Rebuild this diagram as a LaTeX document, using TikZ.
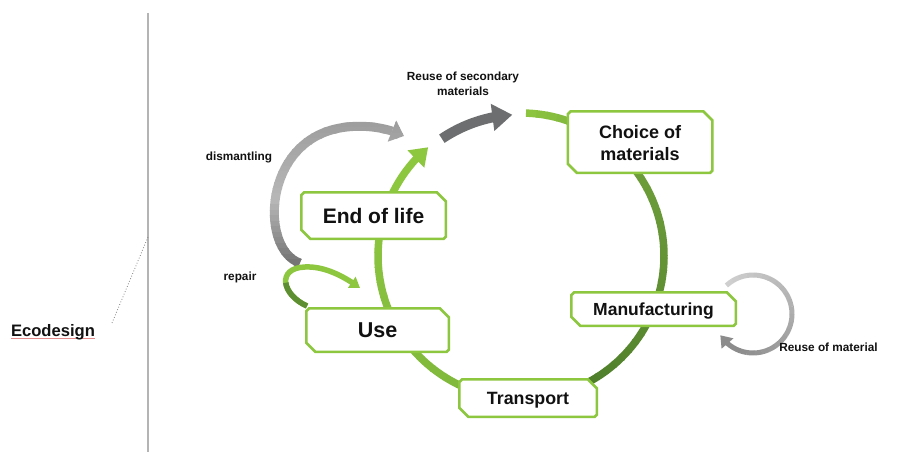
\documentclass[tikz,border=0pt]{standalone}
\usepackage{fontspec}
\setmainfont{Liberation Sans}
\usetikzlibrary{arrows.meta,calc,bending}
\definecolor{lg}{HTML}{8DC63F}
\definecolor{lg2}{HTML}{80B93C}
\definecolor{mg}{HTML}{6E9E3A}
\definecolor{mg2}{HTML}{5E8E32}
\definecolor{dg}{HTML}{4C7B2A}
\definecolor{boxg}{HTML}{8DC63F}
\definecolor{dgray}{HTML}{6D6E70}
\definecolor{gA}{HTML}{6A6A6A}
\definecolor{gB}{HTML}{B6B6B6}
\definecolor{gC}{HTML}{979797}
\definecolor{gL}{HTML}{D0D0D0}
\definecolor{gM}{HTML}{ADADAD}
\definecolor{gD}{HTML}{8C8C8C}
\definecolor{txt}{HTML}{111111}
\definecolor{vline}{HTML}{B4B4B4}
\definecolor{spell}{HTML}{E58A8A}
\newcommand\gradarc[8]{%
  \foreach \k in {1,...,#8}{%
    \pgfmathsetmacro\sa{#3+(#4-#3)*(\k-1)/#8}%
    \pgfmathsetmacro\ea{#3+(#4-#3)*\k/#8+0.4}%
    \pgfmathtruncatemacro\pc{100*(\k-0.5)/#8}%
    \draw[line width=#7, color=#6!\pc!#5] ($(#1)+(\sa:#2)$) arc[start angle=\sa, end angle=\ea, radius=#2];
  }}
\newcommand\chbox[1]{%
  \filldraw[boxline] ($(#1.north west)+(3,0)$) -- ($(#1.north east)+(-9,0)$) -- ($(#1.north east)+(0,9)$)
    -- ($(#1.south east)+(0,-2)$) -- ($(#1.south east)+(-2,0)$) -- ($(#1.south west)+(9,0)$)
    -- ($(#1.south west)+(0,-9)$) -- ($(#1.north west)+(0,3)$) -- cycle;}
\pgfdeclarelayer{bg}
\pgfdeclarelayer{mid}
\pgfsetlayers{bg,mid,main}
\begin{document}
\begin{tikzpicture}[x=1pt,y=-1pt,
  stage/.style={rectangle, draw=none, inner sep=0pt, outer sep=0pt, align=center, text=txt, text depth=0pt},
  boxline/.style={draw=boxg, fill=white, line width=2.5pt, line join=miter},
  lab/.style={inner sep=0pt, outer sep=0pt, align=center, text=txt, font=\bfseries\fontsize{11.8}{15}\selectfont},
  dmline/.style={line width=9pt, -{Triangle[width=22pt,length=13pt]}}]
\useasboundingbox (0,0) rectangle (897,452);

% stage nodes
\node[stage, minimum width=144.5pt, minimum height=61.5pt, text height=36.9pt, text depth=0pt, font=\bfseries\fontsize{18}{22}\selectfont] (choice) at (640,142) {Choice of\\materials};
\node[stage, minimum width=164.5pt, minimum height=33.5pt, text height=12.5pt, font=\bfseries\fontsize{17.5}{20}\selectfont] (manu) at (653.5,309) {Manufacturing};
\node[stage, minimum width=137.5pt, minimum height=37.5pt, text height=12.7pt, font=\bfseries\fontsize{17.8}{20}\selectfont] (trans) at (528,398) {Transport};
\node[stage, minimum width=142.5pt, minimum height=43.5pt, text height=15.4pt, font=\bfseries\fontsize{21.5}{24}\selectfont] (use) at (377.5,330) {Use};
\node[stage, minimum width=144.5pt, minimum height=46.5pt, text height=15pt, font=\bfseries\fontsize{21}{24}\selectfont] (eol) at (373.5,215.5) {End of life};

% labels
\node[lab] (reusesec) at (463,84) {Reuse of secondary\\materials};
\node[lab] (dism) at (239,157) {dismantling};
\node[lab] (repair) at (240,277) {repair};
\node[lab] (reusemat) at (828.5,347) {Reuse of material};
\node[lab, font=\bfseries\fontsize{16.6}{19}\selectfont] (eco) at (53,332) {Ecodesign};

% coordinates
\coordinate (C) at (521,256);
\coordinate (R) at (753,314);
\coordinate (dmS) at (300,263);
\coordinate (dmT) at (340,128);
\coordinate (dmE) at (404,136);
\coordinate (vt) at (148,13);
\coordinate (vb) at (148,452);
\coordinate (vm) at (148,237);
\coordinate (ecoP) at (112,323);
\coordinate (repS) at (307,306);
\coordinate (repM) at (285.75,282.75);
\coordinate (repT) at (305,267);
\coordinate (repE) at (360,288);

\begin{pgfonlayer}{bg}
  \fill[white] (0,0) rectangle (897,452);
  % separator lines
  \draw[vline, line width=1.2pt] (vt) -- (vb);
  \draw[gray, line width=0.8pt, dotted] (vm) -- (ecoP);
  \draw[spell, line width=0.8pt] ($(eco.base west)+(0,2.5)$) -- ($(eco.base east)+(0,2.5)$);
  % main ring
  \gradarc{C}{143}{-88}{-38}{lg}{mg}{7.5pt}{12}
  \gradarc{C}{143}{-38}{20}{mg}{mg2}{7.5pt}{12}
  \gradarc{C}{143}{20}{70}{mg2}{dg}{7.5pt}{12}
  \gradarc{C}{143}{70}{116}{dg}{lg2}{7.5pt}{10}
  \gradarc{C}{143}{116}{205}{lg2}{lg}{7.5pt}{15}
  \draw[line width=7.5pt, lg, -{Triangle[width=23pt,length=17pt]}] ($(C)+(204.5:143)$) arc[start angle=204.5, end angle=229.5, radius=143];
  % reuse of secondary materials arrow
  \draw[line width=10pt, dgray, -{Triangle[width=26pt,length=20pt]}] ($(C)+(236:141.5)$) arc[start angle=236, end angle=266.5, radius=141.5];
  % dismantling (vertical gradient by bands)
  \foreach \i in {0,...,17}{%
    \pgfmathsetmacro\ya{100+5.5*\i}%
    \pgfmathsetmacro\yb{\ya+5.9}%
    \pgfmathtruncatemacro\pc{100*\i/17}%
    \begin{scope}
      \clip (240,\ya) rectangle (440,\yb);
      \draw[dmline, color=gB!\pc!gC] (dmS) .. controls (260,250) and (262,142) .. (dmT) .. controls (365,123.5) and (390,128.5) .. (dmE);
    \end{scope}
  }
  \foreach \i in {0,...,13}{%
    \pgfmathsetmacro\ya{199+5.5*\i}%
    \pgfmathsetmacro\yb{\ya+5.9}%
    \pgfmathtruncatemacro\pc{100-100*\i/13}%
    \begin{scope}
      \clip (240,\ya) rectangle (440,\yb);
      \draw[dmline, color=gB!\pc!gA] (dmS) .. controls (260,250) and (262,142) .. (dmT) .. controls (365,123.5) and (390,128.5) .. (dmE);
    \end{scope}
  }
  % repair
  \draw[line width=5.5pt, lg, -{Triangle[width=13pt,length=10pt]}] (repS) .. controls (282,295) and (276,268) .. (repT) .. controls (325,266) and (345,277) .. (repE);
  \draw[line width=5.5pt, mg2] (repS) .. controls (294.5,300.5) and (286.75,291) .. (repM);
  % reuse of material
  \gradarc{R}{39}{-133}{0}{gL}{gM}{5pt}{12}
  \gradarc{R}{39}{0}{110}{gM}{gD}{5pt}{10}
  \draw[line width=5pt, gD, -{Triangle[width=15pt,length=11pt]}] ($(R)+(109.6:39)$) arc[start angle=109.6, end angle=147, radius=39];
\end{pgfonlayer}

\begin{pgfonlayer}{mid}
  \chbox{choice}
  \chbox{manu}
  \chbox{trans}
  \chbox{use}
  \chbox{eol}
\end{pgfonlayer}
\end{tikzpicture}
\end{document}
